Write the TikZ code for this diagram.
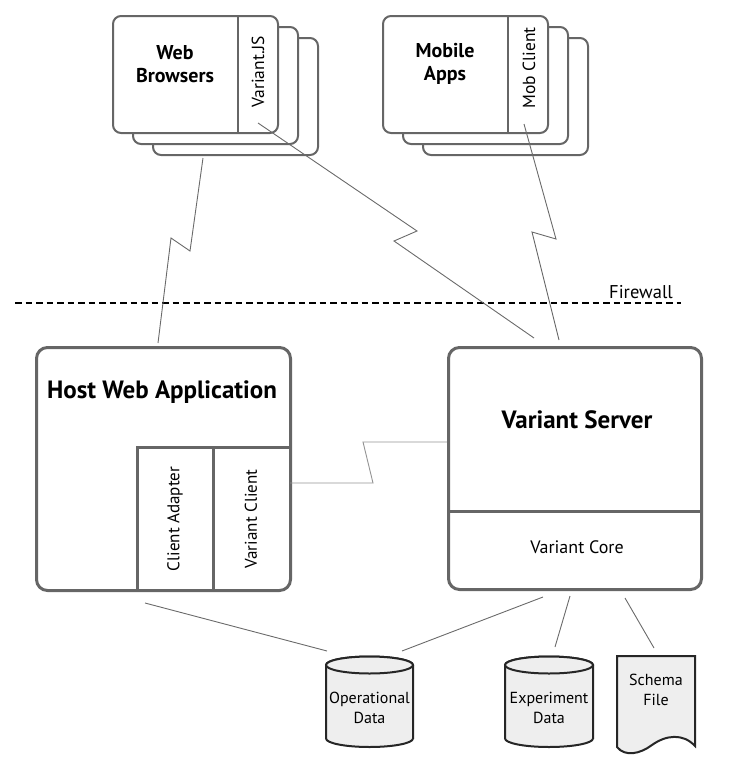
\documentclass[tikz,border=0pt]{standalone}
\usepackage{fontspec}
\setmainfont{PT Sans}
\definecolor{boxgray}{HTML}{666666}
\definecolor{wiregray}{HTML}{6A6A6A}
\definecolor{cylfill}{HTML}{EEEEEE}
\definecolor{cylline}{HTML}{262626}
\begin{document}
\begin{tikzpicture}[x=1pt,y=-1pt,
  stackbox/.style={draw=boxgray, line width=2pt, rounded corners=8pt, fill=white, anchor=north west, minimum width=165pt, minimum height=117pt, inner sep=0pt},
  mainbox/.style={draw=boxgray, line width=3pt, rounded corners=11pt, anchor=north west, inner sep=0pt},
  divider/.style={draw=boxgray, line width=3pt},
  thindiv/.style={draw=boxgray, line width=2pt},
  wire/.style={draw=wiregray, line width=0.9pt},
  store/.style={draw=cylline, line width=2pt, fill=cylfill},
  firewall/.style={draw=black, line width=2pt, dash pattern=on 6.5pt off 4pt},
  bigtitle/.style={font=\bfseries\fontsize{25}{29}\selectfont},
  midtitle/.style={font=\bfseries\fontsize{20}{23}\selectfont, align=center},
  label/.style={font=\fontsize{17}{19}\selectfont},
  toplabel/.style={font=\fontsize{17.5}{20}\selectfont},
  corelabel/.style={font=\fontsize{18}{21}\selectfont},
  small/.style={font=\fontsize{16}{19.5}\selectfont, align=center}]
\useasboundingbox (0,0) rectangle (741,771);

% Web browsers stack
\node[stackbox] (wb3) at (152,37) {};
\node[stackbox] (wb2) at (132,26) {};
\node[stackbox] (wb1) at (112,15) {};
\coordinate (wbd1) at (238,15);
\coordinate (wbd2) at (238,132);
\draw[thindiv] (wbd1) -- (wbd2);
\node[midtitle] (wbt) at (175,64) {Web\\Browsers};
\node[toplabel, rotate=90] (js) at (258,72) {Variant.JS};

% Mobile apps stack
\node[stackbox] (ma3) at (422,37) {};
\node[stackbox] (ma2) at (402,26) {};
\node[stackbox] (ma1) at (382,15) {};
\coordinate (mad1) at (508,15);
\coordinate (mad2) at (508,132);
\draw[thindiv] (mad1) -- (mad2);
\node[midtitle] (mat) at (445,64) {Mobile\\Apps};
\node[toplabel, rotate=90] (mc) at (529,68) {Mob Client};

% Firewall
\coordinate (fwA) at (15,303);
\coordinate (fwB) at (681,303);
\draw[firewall] (fwA) -- (fwB);
\node[font=\fontsize{18.5}{21}\selectfont, anchor=base] (fwt) at (641,298) {Firewall};

% Host web application
\node[mainbox, minimum width=254pt, minimum height=243pt] (host) at (35,346) {};
\node[bigtitle] (hostt) at (162,392) {Host Web Application};
\coordinate (hA) at (137,447);
\coordinate (hB) at (289,447);
\coordinate (hC) at (137,589);
\coordinate (hD) at (213,447);
\coordinate (hE) at (213,589);
\draw[divider] (hB) -- (hA) -- (hC);
\draw[divider] (hD) -- (hE);
\node[label, rotate=90] (ca) at (175,519) {Client Adapter};
\node[label, rotate=90] (vc) at (251,519) {Variant Client};

% Variant server
\node[mainbox, minimum width=253pt, minimum height=242pt] (vs) at (447,346) {};
\node[bigtitle] (vst) at (577,420) {Variant Server};
\coordinate (vsA) at (447,511);
\coordinate (vsB) at (700,511);
\draw[divider] (vsA) -- (vsB);
\node[corelabel] (core) at (577,547) {Variant Core};

% Data stores
\draw[store] (326,665) -- (326,738.5) arc[start angle=180, end angle=360, x radius=43.5pt, y radius=8.5pt] -- (413,665) arc[start angle=0, end angle=180, x radius=43.5pt, y radius=8.5pt] -- cycle;
\draw[store] (369.5,665) ellipse [x radius=43.5pt, y radius=8.5pt];
\node[small] (opd) at (369.5,708) {Operational\\Data};

\draw[store] (505,665) -- (505,738.5) arc[start angle=180, end angle=360, x radius=44pt, y radius=8.5pt] -- (593,665) arc[start angle=0, end angle=180, x radius=44pt, y radius=8.5pt] -- cycle;
\draw[store] (549,665) ellipse [x radius=44pt, y radius=8.5pt];
\node[small] (exd) at (549,708) {Experiment\\Data};

\draw[store] (617,656) -- (695,656) -- (695,746) .. controls (683,733) and (666,735) .. (652,745) .. controls (640,754) and (625,757) .. (617,747) -- cycle;
\node[small] (sch) at (656,690) {Schema\\File};

% Connectors
\coordinate (w1) at (203,158);
\coordinate (w2) at (190,251);
\coordinate (w3) at (171,238);
\coordinate (w4) at (158,343);
\draw[wire] (w1) -- (w2) -- (w3) -- (w4);

\coordinate (j1) at (258,123);
\coordinate (j2) at (417,231);
\coordinate (j3) at (394,241);
\coordinate (j4) at (534,338);
\draw[wire] (j1) -- (j2) -- (j3) -- (j4);

\coordinate (m1) at (524,124);
\coordinate (m2) at (556,239);
\coordinate (m3) at (532,232);
\coordinate (m4) at (559,340);
\draw[wire] (m1) -- (m2) -- (m3) -- (m4);

\coordinate (c1) at (290,483);
\coordinate (c2) at (373,483);
\coordinate (c3) at (363,442);
\coordinate (c4) at (447,442);
\draw[wire, draw=gray!85] (c1) -- (c2) -- (c3) -- (c4);

\coordinate (d1) at (145,603);
\coordinate (d2) at (327,651);
\draw[wire] (d1) -- (d2);
\coordinate (d3) at (543,597);
\coordinate (d4) at (402,651);
\draw[wire] (d3) -- (d4);
\coordinate (d5) at (570,596);
\coordinate (d6) at (555,647);
\draw[wire] (d5) -- (d6);
\coordinate (d7) at (625,598);
\coordinate (d8) at (654,648);
\draw[wire] (d7) -- (d8);
\end{tikzpicture}
\end{document}
